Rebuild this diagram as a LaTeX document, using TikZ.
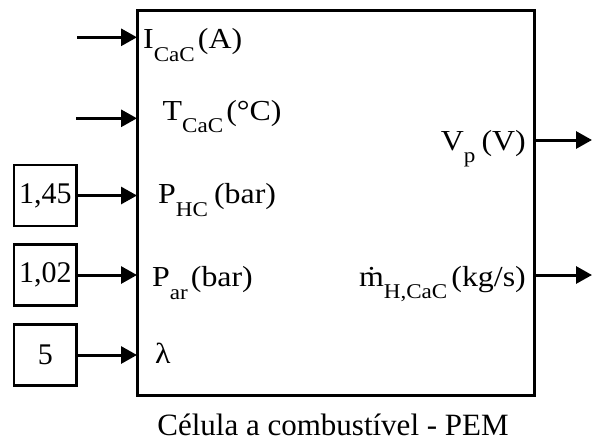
\documentclass[tikz,border=0pt]{standalone}
\usepackage{fontspec}
\setmainfont{Liberation Serif}
\newfontfamily\lblfont[FakeStretch=1.1]{Liberation Serif}
\usetikzlibrary{arrows.meta}
\newcommand\sbs[2][3pt]{\raisebox{-12.5pt}{\fontsize{21}{21}\selectfont #2}\hspace{#1}}
\tikzset{
  arr/.style={line width=3pt,-{Triangle[length=16pt,width=17pt]}},
  lbl/.style={inner sep=0pt,font=\lblfont\fontsize{29}{29}\selectfont},
  cbox/.style={draw,line width=2.6pt,minimum width=62.7pt,minimum height=61pt,inner sep=0pt,font=\fontsize{30}{30}\selectfont},
}
\begin{document}
\begin{tikzpicture}[x=1pt,y=-1pt]
\useasboundingbox (0,0) rectangle (593,445);
\node[draw,line width=3pt,minimum width=397pt,minimum height=385pt,inner sep=0pt,outer sep=0pt] (pem) at (335.5,202.5) {};
% free inputs
\coordinate (iA) at (77,37.3);
\coordinate (iT) at (76,118.3);
\draw[arr] (iA) -- (iA -| pem.west);
\draw[arr] (iT) -- (iT -| pem.west);
% constant blocks
\node[cbox] (c1) at (45.4,195.5) {1,45};
\node[cbox] (c2) at (45.4,275) {1,02};
\node[cbox] (c3) at (45.4,355) {5};
\draw[arr] (c1.east) -- (c1.east -| pem.west);
\draw[arr] (c2.east) -- (c2.east -| pem.west);
\draw[arr] (c3.east) -- (c3.east -| pem.west);
% outputs
\coordinate (oV) at (592,140);
\coordinate (oM) at (592,275);
\draw[arr] (oV -| pem.east) -- (oV);
\draw[arr] (oM -| pem.east) -- (oM);
% labels
\node[lbl,anchor=base west] (lI) at (143,48.5) {I\sbs{CaC}(A)};
\node[lbl,anchor=base west] (lT) at (162.5,120) {T\sbs{CaC}(°C)};
\node[lbl,anchor=base west] (lPH) at (158,203.5) {P\sbs[6pt]{HC}(bar)};
\node[lbl,anchor=base west] (lPa) at (152,286.5) {P\sbs{ar}(bar)};
\node[lbl,anchor=base west] (ll) at (155,363) {λ};
\node[lbl,anchor=base east] (lV) at (526,150) {V\sbs[6pt]{p}(V)};
\node[lbl,anchor=base east] (lM) at (526,286) {\.{m}\sbs[4pt]{H,CaC}(kg/s)};
\node[inner sep=0pt,anchor=base,font=\fontsize{31}{31}\selectfont] (cap) at (333,435) {Célula a combustível - PEM};
\end{tikzpicture}
\end{document}
